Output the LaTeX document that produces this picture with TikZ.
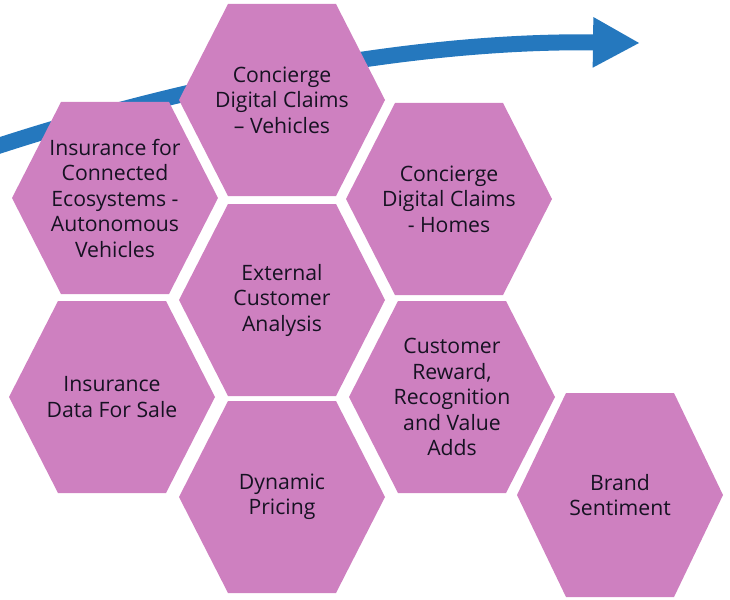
\documentclass[tikz,border=0pt]{standalone}
\usepackage{fontspec}
\setmainfont{Open Sans}
\usetikzlibrary{backgrounds, calc, arrows.meta}
\definecolor{cellpink}{RGB}{206,128,192}
\definecolor{trendblue}{RGB}{37,120,190}
\definecolor{celltext}{RGB}{22,18,34}
\tikzset{cell/.style={align=center, text=celltext, inner sep=0pt, font=\fontsize{21.2}{25.5}\selectfont}}
\tikzset{cellfill/.style={fill=cellpink}}

\begin{document}
\begin{tikzpicture}[x=1pt, y=-1pt]
  \useasboundingbox (0,0) rectangle (730,599);

  \node[cell] (cveh) at (282,100) {Concierge\\Digital Claims\\– Vehicles};
  \node[cell] (ceco) at (115,198) {Insurance for\\Connected\\Ecosystems -\\Autonomous\\Vehicles};
  \node[cell] (chome) at (449,199) {Concierge\\Digital Claims\\- Homes};
  \node[cell] (cext) at (282,300) {External\\Customer\\Analysis};
  \node[cell] (csale) at (112,397) {Insurance\\Data For Sale};
  \node[cell] (crew) at (452,397) {Customer\\Reward,\\Recognition\\and Value\\Adds};
  \node[cell] (cprice) at (282,497) {Dynamic\\Pricing};
  \node[cell] (cbrand) at (620,495) {Brand\\Sentiment};

  \coordinate (t0) at (-5,147);
  \coordinate (t1) at (640,43);

  \begin{scope}[on background layer]
    % trend arrow behind the cells
    \draw[trendblue, line width=16pt, -{Triangle[length=47pt, width=47pt]}]
      (t0) .. controls (200,80) and (420,40) .. (t1);
    \foreach \c/\h in {cveh/96, ceco/96, chome/96, cext/96, csale/96, crew/96, cprice/96, cbrand/102}
      \fill[cellfill] ($(\c)+(-103,0)$) -- ($(\c)+(-54,-\h)$) -- ($(\c)+(54,-\h)$)
        -- ($(\c)+(103,0)$) -- ($(\c)+(54,\h)$) -- ($(\c)+(-54,\h)$) -- cycle;
  \end{scope}
\end{tikzpicture}
\end{document}
